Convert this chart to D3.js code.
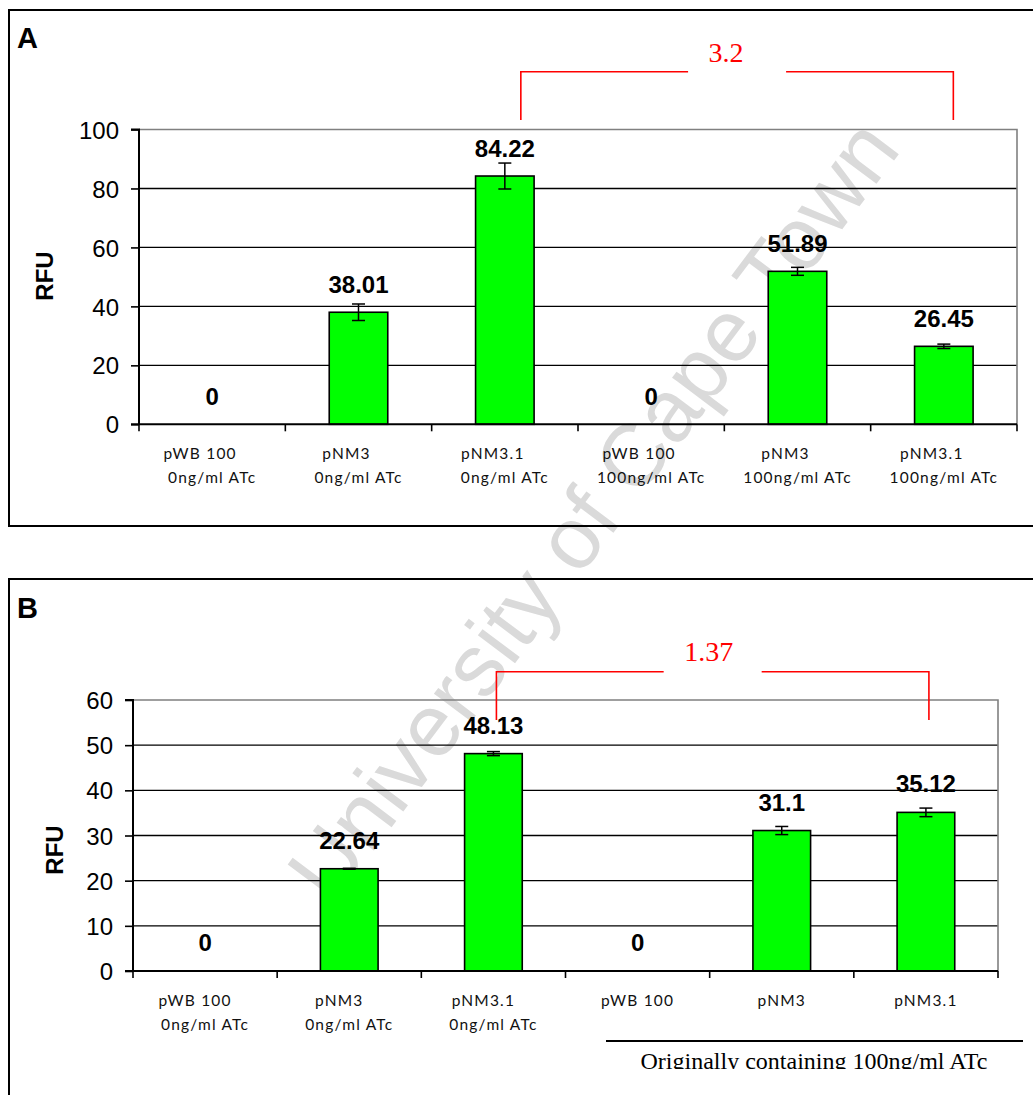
<!DOCTYPE html>
<html><head><meta charset="utf-8">
<script src="https://cdn.jsdelivr.net/npm/d3@7"></script>
<style>body{margin:0;background:#fff}svg{display:block}</style>
</head><body>
<script>
// ---------- data ----------
const namesA = ["pWB 100", "pNM3", "pNM3.1", "pWB 100", "pNM3", "pNM3.1"];
const conditionsA = ["0ng/ml ATc", "0ng/ml ATc", "0ng/ml ATc", "100ng/ml ATc", "100ng/ml ATc", "100ng/ml ATc"];
const valuesA = [0, 38.01, 84.22, 0, 51.89, 26.45];
const errorsA = [0, 2.8, 4.4, 0, 1.35, 0.75];
const ticksA = [0, 20, 40, 60, 80, 100];
const foldA = "3.2";

const namesB = ["pWB 100", "pNM3", "pNM3.1", "pWB 100", "pNM3", "pNM3.1"];
const conditionsB = ["0ng/ml ATc", "0ng/ml ATc", "0ng/ml ATc", "", "", ""];
const valuesB = [0, 22.64, 48.13, 0, 31.1, 35.12];
const errorsB = [0, 0.1, 0.45, 0, 0.9, 0.95];
const ticksB = [0, 10, 20, 30, 40, 50, 60];
const foldB = "1.37";
const groupNoteB = "Originally containing 100ng/ml ATc";

// ---------- setup ----------
const W = 1033, H = 1095;
const SANS = "'Liberation Sans', Arial, sans-serif";
const SERIF = "'Liberation Serif', 'Times New Roman', serif";
const LABEL = "Lato, 'Liberation Sans', sans-serif";

const svg = d3.select("body").append("svg").attr("width", W).attr("height", H);
svg.append("rect").attr("width", W).attr("height", H).attr("fill", "#fff");

// watermark (beneath chart marks)
svg.append("text")
  .attr("transform", "translate(596,512) rotate(-53)")
  .attr("text-anchor", "middle")
  .attr("dy", "0.3em")
  .attr("font-family", SANS)
  .attr("font-size", 88)
  .attr("fill", "#dadada")
  .text("University of Cape Town");

function drawPanel(p) {
  const g = svg.append("g");
  // frame
  g.append("path")
    .attr("d", p.framePath)
    .attr("fill", "none").attr("stroke", "#000").attr("stroke-width", 2);
  g.append("text").attr("x", 17).attr("y", p.letterY)
    .attr("font-family", SANS).attr("font-weight", "bold").attr("font-size", 29)
    .text(p.letter);

  const x = d3.scaleBand().domain(d3.range(p.values.length)).range([p.left, p.right]).paddingInner(0).paddingOuter(0);
  const y = d3.scaleLinear().domain([0, d3.max(p.ticks)]).range([p.bottom, p.top]);
  const bw = x.bandwidth() * 0.4;

  // gridlines
  g.append("g").selectAll("line").data(p.ticks.slice(1, -1)).join("line")
    .attr("x1", p.left).attr("x2", p.right)
    .attr("y1", d => y(d)).attr("y2", d => y(d))
    .attr("stroke", "#000").attr("stroke-width", 1.4);
  // plot border (gray)
  g.append("path")
    .attr("d", `M${p.left},${p.top}H${p.right}V${p.bottom}`)
    .attr("fill", "none").attr("stroke", "#808080").attr("stroke-width", 1.6);

  // bars
  g.append("g").selectAll("rect").data(p.values).join("rect")
    .attr("x", (d, i) => x(i) + (x.bandwidth() - bw) / 2)
    .attr("width", bw)
    .attr("y", d => y(d))
    .attr("height", d => p.bottom - y(d))
    .attr("fill", "#00ff00").attr("stroke", "#000").attr("stroke-width", 1.6)
    .attr("display", d => d > 0 ? null : "none");

  // error bars
  const eg = g.append("g").attr("stroke", "#000").attr("stroke-width", 1.5);
  p.values.forEach((v, i) => {
    const e = p.errors[i];
    if (!(v > 0)) return;
    const cx = x(i) + x.bandwidth() / 2;
    eg.append("line").attr("x1", cx).attr("x2", cx).attr("y1", y(v + e)).attr("y2", y(v - e));
    [v + e, v - e].forEach(t => eg.append("line").attr("x1", cx - 6.5).attr("x2", cx + 6.5).attr("y1", y(t)).attr("y2", y(t)));
  });

  // value labels
  g.append("g").selectAll("text").data(p.values).join("text")
    .attr("x", (d, i) => x(i) + x.bandwidth() / 2)
    .attr("y", d => y(d) - p.labelGap)
    .attr("text-anchor", "middle")
    .attr("font-family", SANS).attr("font-weight", "bold").attr("font-size", 24)
    .text(d => String(d));

  // y axis
  const ya = d3.axisLeft(y).tickValues(p.ticks).tickSize(8).tickPadding(12).tickFormat(d3.format("d"));
  const yg = g.append("g").attr("transform", `translate(${p.left},0)`).call(ya);
  yg.select(".domain").attr("stroke", "#000").attr("stroke-width", 2).attr("d", `M-8,${p.top}H0V${p.bottom}`);
  yg.selectAll(".tick line").attr("stroke", "#000").attr("stroke-width", 1.6);
  yg.selectAll(".tick text").attr("font-family", SANS).attr("font-size", 24).attr("fill", "#000").attr("dy", "0.36em");

  // x axis line + ticks at band boundaries
  g.append("line").attr("x1", p.left - 8).attr("x2", p.right).attr("y1", p.bottom).attr("y2", p.bottom)
    .attr("stroke", "#000").attr("stroke-width", 2);
  const bounds = d3.range(p.values.length + 1).map(i => p.left + i * x.bandwidth());
  g.append("g").selectAll("line").data(bounds).join("line")
    .attr("x1", d => d).attr("x2", d => d).attr("y1", p.bottom).attr("y2", p.bottom + 7)
    .attr("stroke", "#000").attr("stroke-width", 1.6);

  // category labels
  const lg = g.append("g").attr("font-family", LABEL).attr("font-size", 15.5).attr("letter-spacing", 1.2).attr("fill", "#111");
  p.names.forEach((n, i) => {
    const cx = x(i) + x.bandwidth() / 2;
    const two = p.conds[i] !== "";
    lg.append("text").attr("x", cx + (two ? p.line1Shift : 0)).attr("y", p.bottom + 35).attr("text-anchor", "middle").text(n);
    if (two) lg.append("text").attr("x", cx).attr("y", p.bottom + 58.5).attr("text-anchor", "middle").text(p.conds[i]);
  });

  // RFU
  g.append("text").attr("transform", `translate(${p.rfuX},${p.rfuY}) rotate(-90)`)
    .attr("text-anchor", "middle").attr("font-family", SANS).attr("font-weight", "bold").attr("font-size", 24)
    .text("RFU");

  // fold-change bracket
  const b = p.bracket;
  const xl = x(b.from) + x.bandwidth() / 2 + b.dxL;
  const xr = x(b.to) + x.bandwidth() / 2 + b.dxR;
  const mid = (xl + xr) / 2;
  const bg = g.append("g").attr("stroke", "#ff0000").attr("stroke-width", 1.6).attr("fill", "none");
  bg.append("path").attr("d", `M${xl},${b.legEnd}V${b.y}H${mid - 49}`);
  bg.append("path").attr("d", `M${mid + 49},${b.y}H${xr}V${b.legEnd}`);
  g.append("text").attr("x", mid + b.textDx).attr("y", b.textY).attr("text-anchor", "middle")
    .attr("font-family", SERIF).attr("font-size", 28).attr("fill", "#ff0000").text(b.label);
}

drawPanel({
  letter: "A", letterY: 48, framePath: "M1040,10H9V526H1040",
  left: 139, right: 1017, top: 129.5, bottom: 424.3,
  values: valuesA, errors: errorsA, ticks: ticksA, names: namesA, conds: conditionsA,
  labelGap: 19, line1Shift: -12, rfuX: 53, rfuY: 276,
  bracket: { from: 2, to: 5, label: foldA, y: 71.7, legEnd: 120, dxL: 16, dxR: 9.5, textDx: -11, textY: 61.7 }
});

drawPanel({
  letter: "B", letterY: 618, framePath: "M1040,579H9V1100",
  left: 133, right: 998, top: 700, bottom: 971,
  values: valuesB, errors: errorsB, ticks: ticksB, names: namesB, conds: conditionsB,
  labelGap: 20, line1Shift: -10, rfuX: 63, rfuY: 850,
  bracket: { from: 2, to: 5, label: foldB, y: 671.7, legEnd: 720, dxL: 3, dxR: 3, textDx: -4, textY: 661 }
});

// group note under last three categories (panel B)
svg.append("defs").append("clipPath").attr("id", "noteClip")
  .append("rect").attr("x", 0).attr("y", 0).attr("width", W).attr("height", 1069);
svg.append("line").attr("x1", 606).attr("x2", 1023).attr("y1", 1041).attr("y2", 1041)
  .attr("stroke", "#000").attr("stroke-width", 2);
svg.append("text").attr("x", 814).attr("y", 1068.5).attr("text-anchor", "middle")
  .attr("clip-path", "url(#noteClip)")
  .attr("font-family", SERIF).attr("font-size", 24).attr("fill", "#000").text(groupNoteB);
</script>
</body></html>
